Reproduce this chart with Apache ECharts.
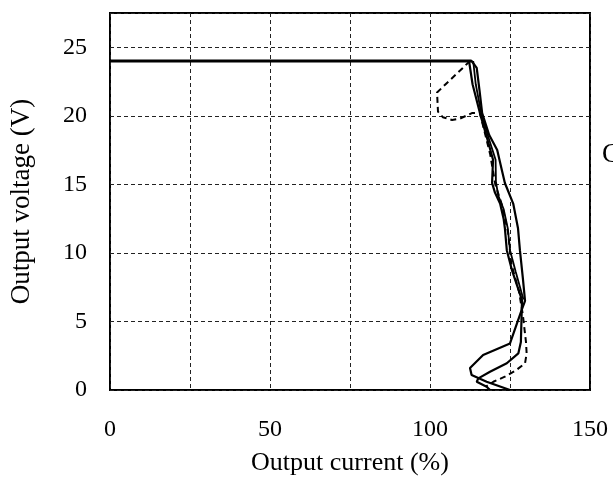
<!DOCTYPE html>
<html>
<head>
<meta charset="utf-8">
<script src="https://cdn.jsdelivr.net/npm/echarts@6/dist/echarts.min.js"></script>
<style>
  html, body { margin: 0; padding: 0; background: #fff; }
  #chart { width: 613px; height: 481px; }
</style>
</head>
<body>
<div id="chart"></div>
<script>
// Output current (%) vs output voltage (V) — overcurrent fold-back characteristics.
const xTicks = [0, 50, 100, 150];
const yTicks = [0, 5, 10, 15, 20, 25];

// Solid trace, outer path
const curveA = [
  [0, 24], [113, 24], [114.6, 23.5], [115.5, 21.8], [116.3, 20.2], [118.5, 18.6],
  [121, 17.5], [122.3, 16.2], [123.4, 15.1], [126, 13.6], [127.5, 11.8],
  [128.1, 10.2], [129, 8.2], [129.7, 6.5], [128.6, 5.8], [125, 3.4],
  [116.6, 2.55], [112.5, 1.6], [113, 1.1], [117.7, 0.6], [125, 0]
];

// Solid trace, inner path
const curveB = [
  [112.2, 24], [113.3, 22.3], [115.6, 20.2], [117.8, 18.4], [119.7, 16.8],
  [119.4, 15.1], [120.3, 14.4], [121.9, 13.6], [123, 12.5], [123.4, 11.8],
  [124, 10.2], [125.6, 8.75], [128.75, 6.56], [128.4, 3.5], [127.6, 2.67],
  [124, 1.95], [118.75, 1.33], [115.1, 0.85], [114.6, 0.6], [117.7, 0.24], [118.75, 0]
];

// Solid trace, middle of the bundle
const curveC = [
  [113.5, 24], [114.3, 22.3], [116, 20.2], [118.3, 18.4], [120.5, 16.8],
  [120.6, 15.2], [121.3, 14.2], [123, 13.2], [124.3, 11.8], [125, 10.2],
  [126.8, 8.6], [129.2, 6.6]
];

// Dashed trace with fold-back near 20 V
const curveD = [
  [112.5, 24], [109.4, 23.3], [105.3, 22.4], [102.2, 21.7], [102.5, 20.3],
  [104, 19.9], [106.9, 19.7], [109.4, 19.8], [113.1, 20.2], [115.6, 20.2],
  [118.8, 17.2], [120.4, 15], [122.6, 13.4], [124.4, 11.5], [125.4, 9.2],
  [127.8, 7.2], [129, 5.5], [130, 3.5], [130.2, 2.67], [129.7, 1.95],
  [127, 1.46], [123.4, 0.97], [119.8, 0.6], [117.5, 0.25]
];

// Flat regulated section at 24 V
const flatLine = [[0, 24], [113, 24]];

const FONT = '"Liberation Serif", "Times New Roman", serif';
const chart = echarts.init(document.getElementById('chart'), null, { renderer: 'canvas' });

function lineSeries(data, width, type) {
  return {
    type: 'line',
    data: data,
    showSymbol: false,
    symbol: 'none',
    smooth: false,
    animation: false,
    lineStyle: { color: '#000', width: width, type: type }
  };
}

chart.setOption({
  animation: false,
  backgroundColor: '#fff',
  grid: {
    left: 110, right: 23, top: 13, bottom: 91,
    show: true, borderColor: '#000', borderWidth: 2, backgroundColor: 'transparent'
  },
  xAxis: {
    type: 'value', min: 0, max: 150, interval: 25,
    name: 'Output current (%)', nameLocation: 'middle', nameGap: 60,
    nameTextStyle: { fontFamily: FONT, fontSize: 26, color: '#000' },
    axisLine: { show: false }, axisTick: { show: false },
    axisLabel: {
      margin: 28, fontFamily: FONT, fontSize: 24, color: '#000',
      formatter: v => (xTicks.indexOf(v) >= 0 ? String(v) : '')
    },
    splitLine: { show: true, lineStyle: { color: '#222', width: 1, type: [4, 3] } }
  },
  yAxis: {
    type: 'value', min: 0, max: 27.5, interval: 5,
    name: 'Output voltage (V)', nameLocation: 'middle', nameGap: 75,
    nameTextStyle: { fontFamily: FONT, fontSize: 27, color: '#000' },
    axisLine: { show: false }, axisTick: { show: false },
    axisLabel: {
      margin: 23, fontFamily: FONT, fontSize: 24, color: '#000', showMaxLabel: false,
      formatter: v => (yTicks.indexOf(v) >= 0 ? String(v) : '')
    },
    splitLine: { show: true, lineStyle: { color: '#222', width: 1, type: [4, 3] } }
  },
  graphic: [{
    type: 'text', left: 602, top: 141,
    style: { text: 'C', font: '27px ' + FONT, fill: '#000' }
  }],
  series: [
    lineSeries(curveD, 2, [6, 4]),
    lineSeries(curveC, 1.8, 'solid'),
    lineSeries(curveB, 2.2, 'solid'),
    lineSeries(curveA, 2.2, 'solid'),
    lineSeries(flatLine, 3, 'solid')
  ]
});
</script>
</body>
</html>
